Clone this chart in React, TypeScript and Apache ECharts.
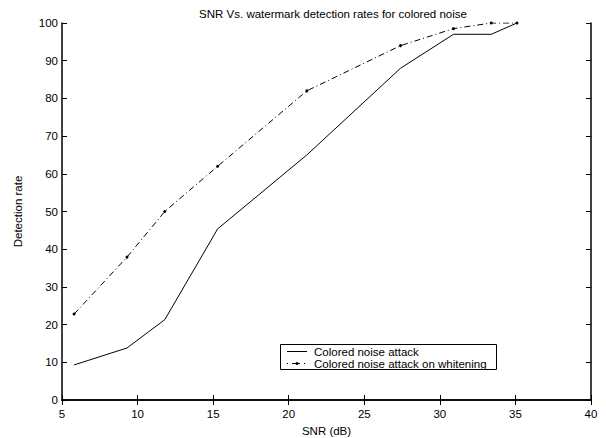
import React, { useEffect, useRef } from "react";
import * as echarts from "echarts";

const snr = [5.8, 9.3, 11.8, 15.3, 21.2, 27.4, 30.9, 33.4, 35.1];
const attack = [9.3, 13.8, 21.3, 45.4, 65, 88, 97, 97, 100];
const attackWhitening = [22.8, 37.9, 50, 62, 82, 94, 98.5, 100, 100];
const seriesNames = ["Colored noise attack", "Colored noise attack on whitening"];
const titleText = "SNR Vs. watermark detection rates for colored noise";
const xName = "SNR (dB)";
const yName = "Detection rate";

const FONT = "'Liberation Sans', Arial, Helvetica, sans-serif";
const FS = 11.5;
const DASHDOT = [6, 3, 1, 3];

export default function App() {
  const ref = useRef<HTMLDivElement>(null);
  useEffect(() => {
    if (!ref.current) return;
    const chart = echarts.init(ref.current, null, { renderer: "svg" });
    const axisCommon = {
      axisLine: { show: true, lineStyle: { color: "#000", width: 1.5 } },
      axisTick: { show: true, inside: true, length: 5, lineStyle: { color: "#000", width: 1 } },
      splitLine: { show: false },
    };
    const label = { color: "#000", fontSize: FS, fontFamily: FONT };
    const lx = 280.5, ly = 344.5, lw = 216, lh = 25;
    chart.setOption({
      animation: false,
      backgroundColor: "#fff",
      title: {
        text: titleText,
        left: 328,
        top: 3,
        textAlign: "center",
        textStyle: { fontSize: FS, fontWeight: "normal", color: "#000", fontFamily: FONT },
      },
      grid: { left: 62, right: 15, top: 23, bottom: 38, containLabel: false, outerBoundsMode: "none" },
      graphic: [
        {
          type: "rect",
          z: 100,
          shape: { x: lx, y: ly, width: lw, height: lh },
          style: { fill: "#fff", stroke: "#000", lineWidth: 1 },
        },
        {
          type: "line",
          z: 101,
          shape: { x1: 287, y1: 351.5, x2: 307, y2: 351.5 },
          style: { stroke: "#000", lineWidth: 1 },
        },
        {
          type: "line",
          z: 101,
          shape: { x1: 287, y1: 363.5, x2: 307, y2: 363.5 },
          style: { stroke: "#000", lineWidth: 1, lineDash: [1, 4, 8, 4, 1, 2] },
        },
        {
          type: "circle",
          z: 102,
          shape: { cx: 297, cy: 363.5, r: 1.5 },
          style: { fill: "#000" },
        },
        {
          type: "text",
          z: 101,
          x: 314,
          y: 351.5,
          style: {
            text: seriesNames[0],
            fill: "#000",
            fontSize: FS,
            fontFamily: FONT,
            verticalAlign: "middle",
          },
        },
        {
          type: "text",
          z: 101,
          x: 314,
          y: 363.5,
          style: {
            text: seriesNames[1],
            fill: "#000",
            fontSize: FS,
            fontFamily: FONT,
            verticalAlign: "middle",
          },
        },
      ],
      xAxis: [
        {
          type: "value",
          min: 5,
          max: 40,
          interval: 5,
          name: xName,
          nameLocation: "middle",
          nameGap: 25,
          nameTextStyle: { fontSize: FS, color: "#000", fontFamily: FONT },
          axisLabel: { ...label, margin: 8 },
          ...axisCommon,
        },
        {
          type: "value",
          position: "top",
          min: 5,
          max: 40,
          interval: 5,
          axisLabel: { show: false },
          ...axisCommon,
        },
      ],
      yAxis: [
        {
          type: "value",
          min: 0,
          max: 100,
          interval: 10,
          name: yName,
          nameLocation: "middle",
          nameGap: 38,
          nameTextStyle: { fontSize: FS, color: "#000", fontFamily: FONT },
          axisLabel: { ...label, margin: 4 },
          ...axisCommon,
        },
        {
          type: "value",
          position: "right",
          min: 0,
          max: 100,
          interval: 10,
          axisLabel: { show: false },
          ...axisCommon,
        },
      ],
      series: [
        {
          name: seriesNames[0],
          type: "line",
          data: snr.map((x, i) => [x, attack[i]]),
          symbol: "none",
          lineStyle: { color: "#000", width: 1, type: "solid" },
          itemStyle: { color: "#000" },
        },
        {
          name: seriesNames[1],
          type: "line",
          data: snr.map((x, i) => [x, attackWhitening[i]]),
          symbol: "circle",
          symbolSize: 3,
          lineStyle: { color: "#000", width: 1, type: DASHDOT },
          itemStyle: { color: "#000" },
        },
      ],
    });
    return () => chart.dispose();
  }, []);
  return (
    <div
      ref={ref}
      style={{ position: "fixed", left: 0, top: 0, width: 606, height: 438, background: "#fff" }}
    />
  );
}
